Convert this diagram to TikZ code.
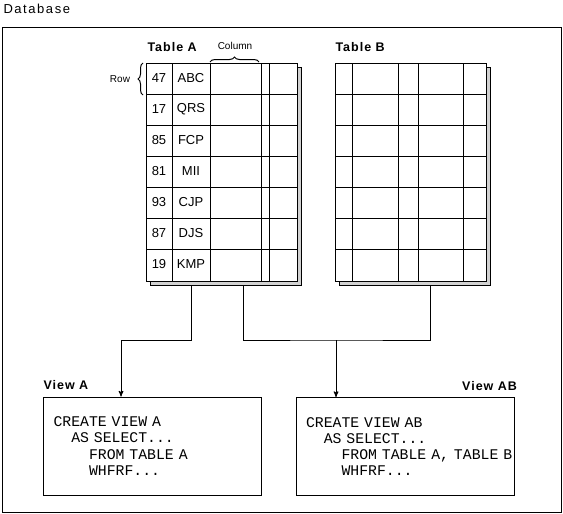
\documentclass[tikz,border=0pt]{standalone}
\usepackage{fontspec}
\setmainfont{Liberation Sans}
\setmonofont{Liberation Mono}
\usetikzlibrary{arrows,positioning,decorations.pathreplacing}

\tikzset{
    tbl/.style={draw, fill=white, minimum width=151pt, minimum height=218pt, inner sep=0pt},
    tblshadow/.style={draw, fill=black!18, minimum width=151pt, minimum height=218pt, inner sep=0pt},
    cell/.style={font=\fontsize{13}{13}\selectfont, inner sep=0pt},
    title/.style={font=\fontsize{12.5}{12.5}\selectfont\bfseries\addfontfeature{LetterSpace=8}, inner sep=0pt},
    small/.style={font=\fontsize{10}{10}\selectfont, inner sep=0pt},
    view/.style={draw, minimum width=218pt, minimum height=98pt, text width=198pt, align=left,
                 inner xsep=10pt, font=\fontsize{14.8}{16.3}\selectfont\ttfamily},
    brc/.style={decorate, decoration={brace, amplitude=5pt}}
}

\begin{document}
\begin{tikzpicture}[x=1pt, y=-1pt, >=stealth', line width=1pt]
    \useasboundingbox (0,0) rectangle (563,514);

    % Database frame
    \node [anchor=base west, inner sep=0pt, font=\fontsize{13}{13}\selectfont\addfontfeature{LetterSpace=12}]
                                (db)  at (3,13)      {Database};
    \draw (2,27) rectangle (561,512);

    % Tables {tA, tB} with their shadows
    \node [tblshadow]           (tAs) at (225.5,176) {};
    \node [tbl]                 (tA)  at (221.5,172) {};
    \node [tblshadow]           (tBs) at (414.5,176) {};
    \node [tbl]                 (tB)  at (410.5,172) {};

    \foreach \y in {94,125,...,249} {
        \draw (146,\y) -- (297,\y);
        \draw (335,\y) -- (486,\y);
    }
    \foreach \x in {172,210,261,269}  \draw (\x,63) -- (\x,281);
    \foreach \x in {352,398,418,463}  \draw (\x,63) -- (\x,281);

    \foreach \n/\t [count=\i from 0] in {47/ABC,17/QRS,85/FCP,81/MII,93/CJP,87/DJS,19/KMP} {
        \node [cell]            (num\i) at (159,78.5+31*\i) {\n};
        \node [cell]            (key\i) at (191,78.5+31*\i) {\t};
    }

    % Labels
    \node [title, anchor=base west] (lblA) at (147,52) {Table A};
    \node [title, anchor=base west] (lblB) at (335,52) {Table B};
    \node [small]               (colLbl) at (235,46)  {Column};
    \node [small]               (rowLbl) at (120,79)  {Row};
    \draw [brc] (210,62) -- (259,62);
    \draw [brc] (143,95) -- (143,63);

    % Views
    \node [view]                (viewA)  at (152.5,446) {CREATE VIEW A\\\phantom{XX}AS SELECT...\\\phantom{XXXX}FROM TABLE A\\\phantom{XXXX}WHFRF...};
    \node [view]                (viewAB) at (405,446.5) {CREATE VIEW AB\\\phantom{XX}AS SELECT...\\\mbox{\phantom{XXXX}FROM TABLE A, TABLE B}\\\phantom{XXXX}WHFRF...};
    \node [title, above right=6pt and 0pt of viewA.north west]  (lblViewA)  {View A};
    \node [title, above left=6pt and -3pt of viewAB.north east] (lblViewAB) {View AB};

    % Paths
    \coordinate (jA) at (121,340);
    \coordinate (jB) at (336,340);
    \draw [->]  ([xshift=-34.5pt]tAs.south) |- (jA) -- (jA |- viewA.north);
    \draw       ([xshift=17.5pt]tAs.south)  |- (jB) -| ([xshift=15.5pt]tBs.south);
    \draw [->]  (jB) -- (jB |- viewAB.north);

\end{tikzpicture}
\end{document}
